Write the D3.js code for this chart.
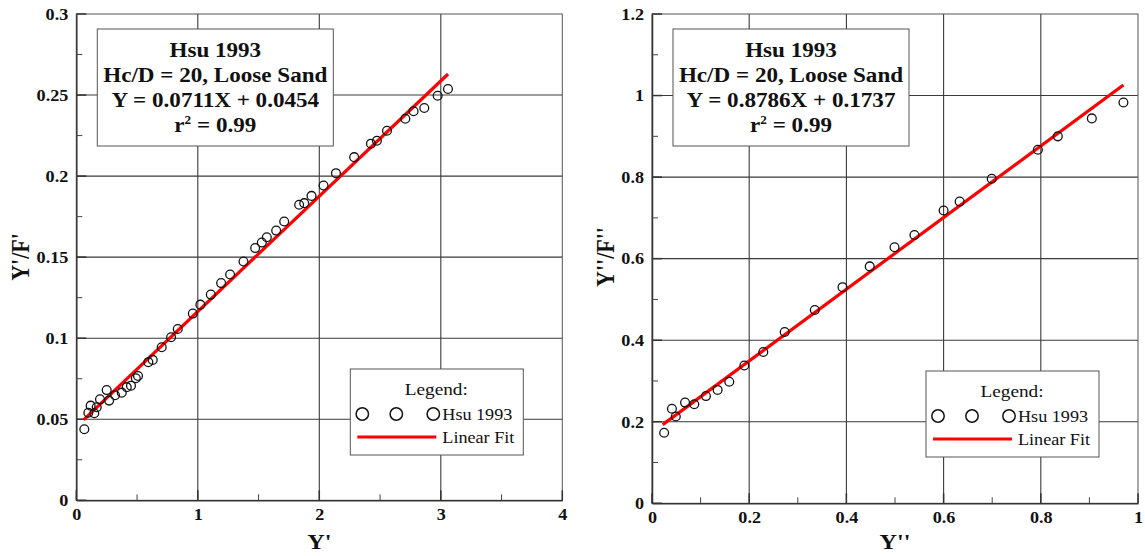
<!DOCTYPE html>
<html>
<head>
<meta charset="utf-8">
<script src="https://cdn.jsdelivr.net/npm/d3@7"></script>
<style>
  body { margin: 0; background: #fff; }
  text { font-family: "Liberation Serif", "Times New Roman", serif; }
</style>
</head>
<body>
<script>

// data
var leftX = [0.066, 0.099, 0.118, 0.148, 0.168, 0.195, 0.25, 0.27, 0.319, 0.374, 0.415, 0.45, 0.49, 0.508,
  0.593, 0.629, 0.703, 0.78, 0.835, 0.959, 1.021, 1.107, 1.192, 1.266, 1.376, 1.472, 1.527, 1.568, 1.645,
  1.711, 1.834, 1.876, 1.936, 2.035, 2.137, 2.287, 2.425, 2.474, 2.557, 2.708, 2.776, 2.864, 2.974, 3.059];
var leftY = [0.0438, 0.054, 0.0584, 0.0537, 0.0574, 0.0623, 0.068, 0.0615, 0.0648, 0.0664, 0.0698, 0.0707, 0.0753, 0.0767,
  0.0852, 0.0866, 0.0944, 0.1006, 0.1057, 0.1152, 0.1207, 0.1269, 0.134, 0.1393, 0.1473, 0.1556, 0.159, 0.1623, 0.1664,
  0.172, 0.1823, 0.1833, 0.1878, 0.1942, 0.2018, 0.2117, 0.22, 0.2218, 0.228, 0.2354, 0.24, 0.242, 0.2496, 0.2537];

var rightX = [0.025, 0.041, 0.049, 0.068, 0.087, 0.111, 0.135, 0.159, 0.19, 0.229, 0.273, 0.335, 0.392,
  0.448, 0.499, 0.54, 0.6, 0.633, 0.699, 0.794, 0.835, 0.905, 0.97];
var rightY = [0.173, 0.232, 0.213, 0.247, 0.243, 0.263, 0.278, 0.298, 0.338, 0.371, 0.42, 0.474, 0.53,
  0.581, 0.628, 0.658, 0.718, 0.74, 0.796, 0.867, 0.9, 0.944, 0.983];

// fit lines (slope, intercept, x range)
var leftFit = {a: 0.0711, b: 0.0454, x0: 0.06, x1: 3.06};
var rightFit = {a: 0.8786, b: 0.1737, x0: 0.022, x1: 0.97};

// tick values
var leftXTicks = [0, 1, 2, 3, 4];
var leftXMinor = [0.5, 1.5, 2.5, 3.5];
var leftYTicks = [0, 0.05, 0.1, 0.15, 0.2, 0.25, 0.3];
var leftYMinor = [0.025, 0.075, 0.125, 0.175, 0.225, 0.275];
var rightXTicks = [0, 0.2, 0.4, 0.6, 0.8, 1];
var rightXMinor = [0.1, 0.3, 0.5, 0.7, 0.9];
var rightYTicks = [0, 0.2, 0.4, 0.6, 0.8, 1, 1.2];
var rightYMinor = [0.1, 0.3, 0.5, 0.7, 0.9, 1.1];

var leftNote = ["Hsu 1993", "Hc/D = 20, Loose Sand", "Y = 0.0711X + 0.0454"];
var rightNote = ["Hsu 1993", "Hc/D = 20, Loose Sand", "Y = 0.8786X + 0.1737"];

var STRETCH = 1.1; // the original picture is a bit wider than tall

var svg = d3.select("body").append("svg")
    .attr("width", 1145)
    .attr("height", 556);

function fmt(d) { return String(+d.toFixed(3)); }

function drawPanel(p) {
  var W = 486, H = p.bottom - 14;
  var g = svg.append("g").attr("transform", "translate(" + p.left + ",14)");

  var x = d3.scaleLinear().domain(p.xDomain).range([0, W]);
  var y = d3.scaleLinear().domain(p.yDomain).range([H, 0]);

  // grid lines
  g.append("g").selectAll("line").data(p.xTicks.slice(1, -1)).enter().append("line")
    .attr("x1", d => x(d)).attr("x2", d => x(d)).attr("y1", 0).attr("y2", H)
    .attr("stroke", "#3a3a3a").attr("stroke-width", 1.1);
  g.append("g").selectAll("line").data(p.yTicks.slice(1, -1)).enter().append("line")
    .attr("y1", d => y(d)).attr("y2", d => y(d)).attr("x1", 0).attr("x2", W)
    .attr("stroke", "#3a3a3a").attr("stroke-width", 1.1);

  // frame
  g.append("rect").attr("width", W).attr("height", H)
    .attr("fill", "none").attr("stroke", "#555").attr("stroke-width", 1);

  // axes, labels only
  var xAxis = d3.axisBottom(x).tickValues(p.xTicks).tickFormat(fmt).tickSize(0).tickPadding(8);
  var yAxis = d3.axisLeft(y).tickValues(p.yTicks).tickFormat(fmt).tickSize(0).tickPadding(8);

  var xa = g.append("g").attr("transform", "translate(0," + H + ")").call(xAxis);
  var ya = g.append("g").call(yAxis);
  [xa, ya].forEach(function(a) {
    a.select(".domain").attr("stroke", "#333").attr("stroke-width", 1.5);
    a.selectAll("text").attr("font-size", 16.5).attr("font-weight", "bold").attr("fill", "#111");
  });

  // major tick marks inside
  g.append("g").selectAll("line").data(p.xTicks).enter().append("line")
    .attr("x1", d => x(d)).attr("x2", d => x(d)).attr("y1", H).attr("y2", H - 10)
    .attr("stroke", "#333").attr("stroke-width", 1.5);
  g.append("g").selectAll("line").data(p.yTicks).enter().append("line")
    .attr("y1", d => y(d)).attr("y2", d => y(d)).attr("x1", 0).attr("x2", 10)
    .attr("stroke", "#333").attr("stroke-width", 1.5);
  // minor ticks
  g.append("g").selectAll("line").data(p.xMinor).enter().append("line")
    .attr("x1", d => x(d)).attr("x2", d => x(d)).attr("y1", H).attr("y2", H - 6)
    .attr("stroke", "#444").attr("stroke-width", 1);
  g.append("g").selectAll("line").data(p.yMinor).enter().append("line")
    .attr("y1", d => y(d)).attr("y2", d => y(d)).attr("x1", 0).attr("x2", 6)
    .attr("stroke", "#444").attr("stroke-width", 1);

  // fit line
  g.append("line")
    .attr("x1", x(p.fit.x0)).attr("y1", y(p.fit.a * p.fit.x0 + p.fit.b))
    .attr("x2", x(p.fit.x1)).attr("y2", y(p.fit.a * p.fit.x1 + p.fit.b))
    .attr("stroke", "#f00").attr("stroke-width", 3.2);

  // points
  var pts = p.xs.map(function(v, i) { return {x: v, y: p.ys[i]}; });
  g.append("g").selectAll("circle").data(pts).enter().append("circle")
    .attr("cx", d => x(d.x)).attr("cy", d => y(d.y)).attr("r", 4.4)
    .attr("fill", "none").attr("stroke", "#111").attr("stroke-width", 1.3);

  // annotation box
  var nb = g.append("g").attr("transform", "translate(21,15)");
  nb.append("rect").attr("width", 236).attr("height", 117)
    .attr("fill", "#fff").attr("stroke", "#555").attr("stroke-width", 1);
  p.note.forEach(function(t, i) {
    nb.append("text").attr("x", 118).attr("y", 28 + i * 25)
      .attr("text-anchor", "middle").attr("font-size", 21).attr("font-weight", "bold")
      .attr("fill", "#111").text(t);
  });
  var r2 = nb.append("text").attr("x", 118).attr("y", 103)
    .attr("text-anchor", "middle").attr("font-size", 21).attr("font-weight", "bold").attr("fill", "#111");
  r2.append("tspan").text("r");
  r2.append("tspan").attr("font-size", 12).attr("dy", -8).text("2");
  r2.append("tspan").attr("dy", 8).text(" = 0.99");

  // legend
  var lg = g.append("g").attr("transform", "translate(274," + (p.legendTop - 14) + ")");
  lg.append("rect").attr("width", 173).attr("height", 86)
    .attr("fill", "#fff").attr("stroke", "#555").attr("stroke-width", 1);
  lg.append("text").attr("x", 86).attr("y", 26).attr("text-anchor", "middle")
    .attr("font-size", 17.5).attr("fill", "#111").text("Legend:");
  lg.selectAll("circle.lg").data([12, 46, 83]).enter().append("circle")
    .attr("cx", d => d).attr("cy", 45).attr("r", 6.2)
    .attr("fill", "none").attr("stroke", "#111").attr("stroke-width", 1.5);
  lg.append("text").attr("x", 92).attr("y", 51).attr("font-size", 16.5).attr("fill", "#111").text("Hsu 1993");
  lg.append("line").attr("x1", 7).attr("x2", 86).attr("y1", 68).attr("y2", 68)
    .attr("stroke", "#f00").attr("stroke-width", 3.2);
  lg.append("text").attr("x", 92).attr("y", 74).attr("font-size", 16.5).attr("fill", "#111").text("Linear Fit");

  // axis titles
  svg.append("text").attr("x", p.left + W / 2).attr("y", 549).attr("text-anchor", "middle")
    .attr("font-size", 22).attr("font-weight", "bold").attr("fill", "#111").text(p.xTitle);
  svg.append("text").attr("class", "rot").attr("transform", "translate(" + p.yTitleX + ",257) rotate(-90) scale(1," + STRETCH + ")")
    .attr("text-anchor", "middle").attr("font-size", 22).attr("font-weight", "bold")
    .attr("fill", "#111").text(p.yTitle);
}

drawPanel({left: 76.3, bottom: 500.3, xDomain: [0, 4], yDomain: [0, 0.3],
  xTicks: leftXTicks, xMinor: leftXMinor, yTicks: leftYTicks, yMinor: leftYMinor,
  xs: leftX, ys: leftY, fit: leftFit, note: leftNote, legendTop: 369,
  xTitle: "Y'", yTitle: "Y'/F'", yTitleX: 29});

drawPanel({left: 652, bottom: 503.3, xDomain: [0, 1], yDomain: [0, 1.2],
  xTicks: rightXTicks, xMinor: rightXMinor, yTicks: rightYTicks, yMinor: rightYMinor,
  xs: rightX, ys: rightY, fit: rightFit, note: rightNote, legendTop: 371,
  xTitle: "Y''", yTitle: "Y''/F''", yTitleX: 614});

// widen the glyphs a little, keeping each text anchored where it is
svg.selectAll("text").filter(function() { return !this.classList.contains("rot"); })
  .each(function() {
    var t = d3.select(this);
    var tx = +t.attr("x") || 0, ty = +t.attr("y") || 0;
    t.attr("x", 0).attr("y", 0)
      .attr("transform", "translate(" + tx + "," + ty + ") scale(" + STRETCH + ",1)");
  });

</script>
</body>
</html>
